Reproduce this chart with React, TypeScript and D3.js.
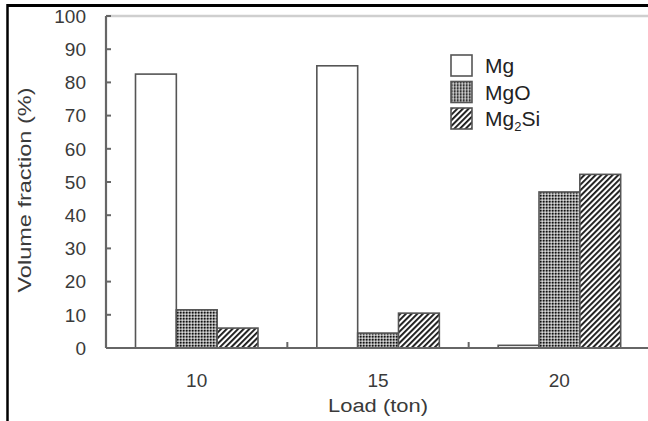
import React from "react";
import * as d3 from "d3";

const categories = ["10", "15", "20"];
const seriesNames = ["Mg", "MgO", "Mg2Si"];
const mgValues = [82.5, 85, 0.8];
const mgoValues = [11.5, 4.5, 47];
const mg2siValues = [6, 10.5, 52.3];
const yTicks = [0, 10, 20, 30, 40, 50, 60, 70, 80, 90, 100];

const W = 648;
const H = 421;
const left = 106;
const right = 650;
const top = 16;
const bottom = 348;

const fills = ["#ffffff", "url(#dots)", "url(#hatch)"];

export default function App() {
  const x = d3.scaleBand<string>().domain(categories).range([left, right]).paddingInner(0).paddingOuter(0);
  const inner = d3.scaleBand<string>().domain(seriesNames).range([29.5, 152]).padding(0);
  const y = d3.scaleLinear().domain([0, 100]).range([bottom, top]);
  const series = [mgValues, mgoValues, mg2siValues];
  const font = "'Liberation Sans', Arial, sans-serif";
  const bw = x.bandwidth();

  return (
    <svg width={W} height={H} style={{ position: "absolute", left: 0, top: 0, background: "#fff" }}>
      <defs>
        <pattern id="dots" width={3} height={3} patternUnits="userSpaceOnUse">
          <rect width={3} height={3} fill="#959595" />
          <rect x={0} y={0} width={1.5} height={1.5} fill="#111" />
          <rect x={1.5} y={1.5} width={1.5} height={1.5} fill="#d8d8d8" />
        </pattern>
        <pattern id="hatch" width={4} height={4} patternUnits="userSpaceOnUse" patternTransform="rotate(45)">
          <rect width={4} height={4} fill="#ffffff" />
          <rect x={0} y={0} width={1.9} height={4} fill="#1a1a1a" />
        </pattern>
      </defs>
      <rect width={W} height={H} fill="#fff" />
      {/* outer frame */}
      <line x1={7.5} x2={W} y1={5.5} y2={5.5} stroke="#000" strokeWidth={3} />
      <line x1={7.5} x2={7.5} y1={4} y2={H} stroke="#000" strokeWidth={2.5} />

      {/* top light line */}
      <line x1={left} x2={W} y1={top} y2={top} stroke="#cfcfcf" strokeWidth={2.5} />

      {/* bars */}
      {categories.map((c, ci) => (
        <g key={c}>
          {series.map((vals, si) => {
            const x0 = (x(c) as number) + (inner(seriesNames[si]) as number);
            const yv = y(vals[ci]);
            return (
              <rect
                key={si}
                x={x0}
                y={yv}
                width={inner.bandwidth()}
                height={bottom - yv}
                fill={fills[si]}
                stroke="#555"
                strokeWidth={1.6}
              />
            );
          })}
        </g>
      ))}

      {/* y axis */}
      <line x1={left} x2={left} y1={top} y2={bottom} stroke="#666" strokeWidth={2.2} />
      {yTicks.map((t) => (
        <g key={t}>
          <line x1={left} x2={left + 5} y1={y(t)} y2={y(t)} stroke="#666" strokeWidth={2} />
          <text x={86} y={y(t)} dy="0.36em" textAnchor="end" fontFamily={font} fontSize={19} fill="#3a3a3a">
            {t}
          </text>
        </g>
      ))}
      {/* x axis */}
      <line x1={left} x2={W} y1={bottom} y2={bottom} stroke="#666" strokeWidth={2.2} />
      {categories.slice(1).map((c) => (
        <line key={c} x1={x(c) as number} x2={x(c) as number} y1={bottom} y2={bottom - 6} stroke="#666" strokeWidth={2} />
      ))}
      {categories.map((c) => (
        <text key={c} x={(x(c) as number) + bw / 2} y={387} textAnchor="middle" fontFamily={font} fontSize={19} fill="#3a3a3a">
          {c}
        </text>
      ))}
      <text x={(left + right) / 2} y={412} textAnchor="middle" fontFamily={font} fontSize={18} fill="#3a3a3a" textLength={100} lengthAdjust="spacingAndGlyphs">
        Load (ton)
      </text>
      <text
        transform={`translate(31, 190) rotate(-90)`}
        textAnchor="middle"
        fontFamily={font}
        fontSize={18}
        fill="#3a3a3a"
        textLength={205}
        lengthAdjust="spacingAndGlyphs"
      >
        Volume fraction (%)
      </text>

      {/* legend */}
      {seriesNames.map((s, i) => (
        <g key={s} transform={`translate(451, ${55 + i * 26.5})`}>
          <rect x={0} y={0} width={21} height={21} fill={fills[i]} stroke="#555" strokeWidth={1.6} />
          <text x={34} y={18} fontFamily={font} fontSize={21} fill="#222">
            {s === "Mg2Si" ? (
              <>
                Mg<tspan fontSize={13} dy={5}>2</tspan>
                <tspan dy={-5}>Si</tspan>
              </>
            ) : (
              s
            )}
          </text>
        </g>
      ))}
    </svg>
  );
}
